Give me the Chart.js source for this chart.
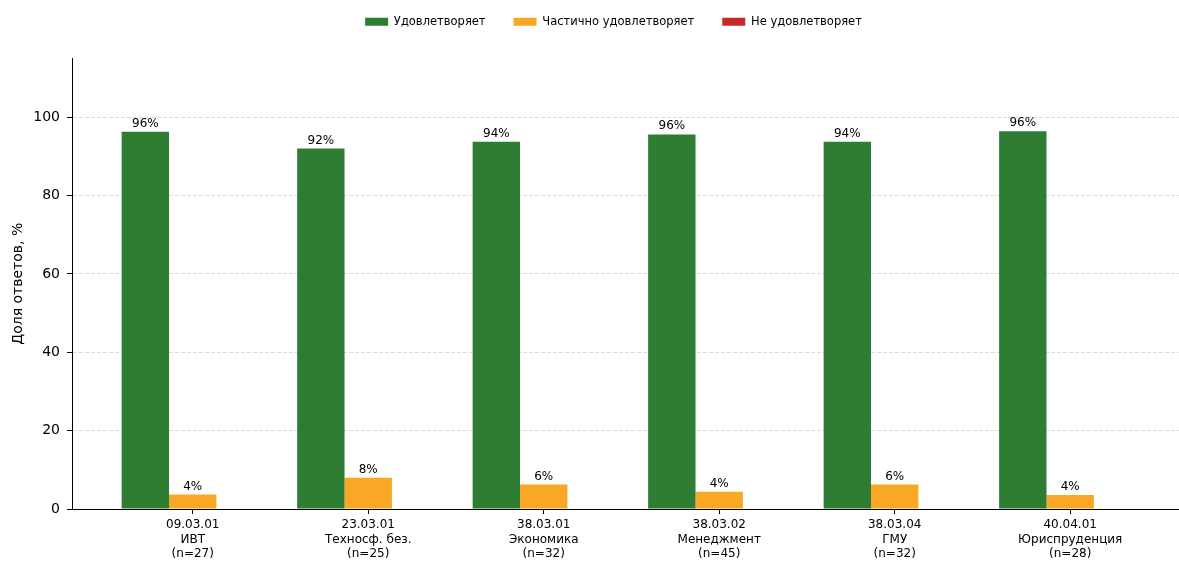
<!DOCTYPE html>
<html lang="ru">
<head>
<meta charset="utf-8">
<script src="https://cdn.jsdelivr.net/npm/chart.js@4/dist/chart.umd.min.js"></script>
<style>
  html, body { margin: 0; padding: 0; background: #fff; }
  #wrap { width: 1179px; height: 561px; position: relative; }
</style>
</head>
<body>
<div id="wrap"><canvas id="chart"></canvas></div>
<script>
// programmes (x axis, three lines per tick)
const codes = ['09.03.01', '23.03.01', '38.03.01', '38.03.02', '38.03.04', '40.04.01'];
const names = ['ИВТ', 'Техносф. без.', 'Экономика', 'Менеджмент', 'ГМУ', 'Юриспруденция'];
const respondents = [27, 25, 32, 45, 32, 28];

// share of answers, %
const satisfied = [96.3, 92.0, 93.75, 95.6, 93.75, 96.4];
const partly = [3.7, 8.0, 6.25, 4.4, 6.25, 3.6];
const notSatisfied = [0, 0, 0, 0, 0, 0];

const yTicks = [0, 20, 40, 60, 80, 100];

const font = '"DejaVu Sans", sans-serif';
Chart.defaults.font.family = font;
Chart.defaults.color = '#000';

const toPoints = arr => arr.map((v, i) => ({ x: i, y: v }));

// value labels above the bars (skips the empty series)
const barLabels = {
    id: 'barLabels',
    afterDatasetsDraw(chart) {
        const ctx = chart.ctx;
        ctx.save();
        ctx.font = '12px ' + font;
        ctx.fillStyle = '#000';
        ctx.textAlign = 'center';
        ctx.textBaseline = 'alphabetic';
        chart.data.datasets.forEach((ds, di) => {
            const meta = chart.getDatasetMeta(di);
            meta.data.forEach((bar, i) => {
                const v = ds.data[i].y;
                if (!v) return;
                ctx.fillText(Math.round(v) + '%', bar.x, bar.y - 5);
            });
        });
        ctx.restore();
    }
};

// extra gap under the legend, and nudge it a bit to the left
const legendGap = {
    id: 'legendGap',
    beforeLayout(chart) {
        const legend = chart.legend;
        if (!legend || legend._gapPatched) return;
        const fit = legend.fit;
        legend.fit = function () {
            fit.call(this);
            this.height += 21;
        };
        legend._gapPatched = true;
    },
    afterLayout(chart) {
        if (!chart.legend) return;
        chart.legend.left -= 12;
        chart.legend.right -= 12;
    }
};

new Chart(document.getElementById('chart'), {
    type: 'bar',
    data: {
        datasets: [
            { label: 'Удовлетворяет', data: toPoints(satisfied), backgroundColor: '#2e7d32' },
            { label: 'Частично удовлетворяет', data: toPoints(partly), backgroundColor: '#f9a825' },
            { label: 'Не удовлетворяет', data: toPoints(notSatisfied), backgroundColor: '#c62828' }
        ]
    },
    options: {
        responsive: true,
        maintainAspectRatio: false,
        animation: false,
        categoryPercentage: 0.81,
        barPercentage: 1.0,
        layout: { padding: { top: -12, right: 0, bottom: 0, left: 0 } },
        plugins: {
            legend: {
                position: 'top',
                fullSize: false,
                labels: {
                    boxWidth: 23,
                    boxHeight: 8,
                    padding: 28,
                    color: '#000',
                    font: { size: 11.5 }
                }
            },
            tooltip: { enabled: false }
        },
        scales: {
            x: {
                type: 'linear',
                min: -0.688,
                max: 5.62,
                offset: false,
                afterBuildTicks: scale => {
                    scale.ticks = codes.map((c, i) => ({ value: i }));
                },
                afterFit: scale => { scale.height = 52; },
                ticks: {
                    autoSkip: false,
                    maxRotation: 0,
                    padding: 4,
                    color: '#000',
                    font: { size: 12 },
                    callback: v => [codes[v], names[v], '(n=' + respondents[v] + ')']
                },
                grid: {
                    offset: false,
                    drawOnChartArea: false,
                    drawTicks: true,
                    tickLength: 5,
                    tickColor: '#000'
                },
                border: { color: '#000', width: 1 }
            },
            y: {
                min: 0,
                max: 115,
                afterBuildTicks: scale => {
                    scale.ticks = yTicks.map(v => ({ value: v }));
                },
                afterFit: scale => { scale.width = 72; },
                ticks: {
                    padding: 7,
                    color: '#000',
                    font: { size: 14 }
                },
                title: {
                    display: true,
                    text: 'Доля ответов, %',
                    color: '#000',
                    font: { size: 14 },
                    padding: { top: 10, bottom: 0 }
                },
                grid: {
                    color: '#dddddd',
                    tickBorderDash: [],
                    tickLength: 5,
                    tickColor: '#000'
                },
                border: { color: '#000', width: 1, dash: [4, 2] }
            }
        }
    },
    plugins: [barLabels, legendGap]
});
</script>
</body>
</html>
